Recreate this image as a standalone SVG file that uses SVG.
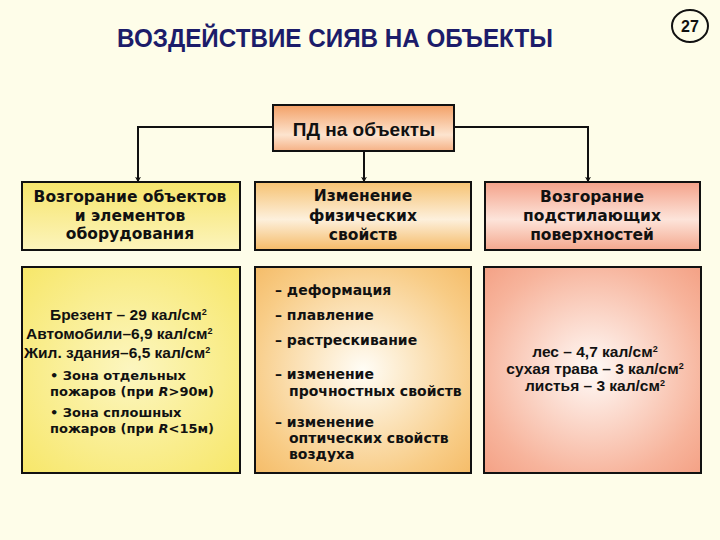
<svg xmlns="http://www.w3.org/2000/svg" width="720" height="540" viewBox="0 0 720 540">
<defs>
<style>
.box{stroke:#111;stroke-width:2}
.conn{fill:none;stroke:#111;stroke-width:2}
.title{font-family:"Liberation Sans",Arial,sans-serif;font-weight:bold;fill:#1c1c6a}
.hd{font-family:"DejaVu Sans",Verdana,sans-serif;font-weight:bold;font-size:15.5px;fill:#111;text-anchor:middle}
.ar{font-family:"Liberation Sans",Arial,sans-serif;font-weight:bold;font-size:15.5px;fill:#111}
.dv{font-family:"DejaVu Sans",Verdana,sans-serif;font-weight:bold;font-size:13px;fill:#111}
.dm{font-family:"DejaVu Sans",Verdana,sans-serif;font-weight:bold;font-size:14px;fill:#111}
.sup{font-size:9px}
</style>
<marker id="arr" viewBox="0 0 10 10" refX="9" refY="5" markerWidth="6" markerHeight="6" orient="auto" markerUnits="userSpaceOnUse">
<path d="M0,0 L10,5 L0,10 L3,5 Z" fill="#111"/>
</marker>
<linearGradient id="gPD" x1="0" y1="0" x2="0" y2="1">
<stop offset="0" stop-color="#f3a066"/><stop offset="0.65" stop-color="#fde4cf"/><stop offset="1" stop-color="#f5b185"/>
</linearGradient>
<linearGradient id="gY" x1="0" y1="0" x2="0" y2="1">
<stop offset="0" stop-color="#f6e56c"/><stop offset="1" stop-color="#fcf4bc"/>
</linearGradient>
<linearGradient id="gO" x1="0" y1="0" x2="0" y2="1">
<stop offset="0" stop-color="#f6c272"/><stop offset="0.55" stop-color="#fdf0dc"/><stop offset="1" stop-color="#f5bb68"/>
</linearGradient>
<linearGradient id="gS" x1="0" y1="0" x2="0" y2="1">
<stop offset="0" stop-color="#f4a28a"/><stop offset="0.55" stop-color="#fde4da"/><stop offset="1" stop-color="#f4a88e"/>
</linearGradient>
<radialGradient id="rY" cx="0.5" cy="0.5" r="0.7">
<stop offset="0" stop-color="#fcf6c0"/><stop offset="1" stop-color="#f7e76a"/>
</radialGradient>
<radialGradient id="rO" cx="0.5" cy="0.5" r="0.7">
<stop offset="0" stop-color="#fffdf6"/><stop offset="0.75" stop-color="#f8cc86"/><stop offset="1" stop-color="#f5bd6a"/>
</radialGradient>
<radialGradient id="rS" cx="0.5" cy="0.5" r="0.7">
<stop offset="0" stop-color="#fffaf7"/><stop offset="0.75" stop-color="#f7b49c"/><stop offset="1" stop-color="#f4a286"/>
</radialGradient>
</defs>
<rect x="0" y="0" width="720" height="540" fill="#fefde9"/>

<g id="title">
<text class="title" x="117" y="47" font-size="25" textLength="436" lengthAdjust="spacingAndGlyphs">ВОЗДЕЙСТВИЕ СИЯВ НА ОБЪЕКТЫ</text>
</g>
<g id="pagenum">
<ellipse cx="690" cy="26" rx="18" ry="16" fill="none" stroke="#111" stroke-width="2"/>
<text x="690" y="32" font-family="Liberation Sans, Arial, sans-serif" font-weight="bold" font-size="16" text-anchor="middle" fill="#111">27</text>
</g>

<g id="connectors">
<path class="conn" d="M273,127 H138 V182" marker-end="url(#arr)"/>
<path class="conn" d="M364,151 V182" marker-end="url(#arr)"/>
<path class="conn" d="M454,127 H588 V182" marker-end="url(#arr)"/>
</g>

<g id="pd">
<rect class="box" x="273" y="105" width="181" height="46" fill="url(#gPD)"/>
<text x="364" y="136" font-family="Liberation Sans, Arial, sans-serif" font-weight="bold" font-size="19" text-anchor="middle" fill="#111">ПД на объекты</text>
</g>

<g id="h1">
<rect class="box" x="22" y="182" width="218" height="68" fill="url(#gY)"/>
<text class="hd" x="130" y="202">Возгорание объектов</text>
<text class="hd" x="130" y="221">и элементов</text>
<text class="hd" x="130" y="239">оборудования</text>
</g>
<g id="h2">
<rect class="box" x="255" y="182" width="216" height="68" fill="url(#gO)"/>
<text class="hd" x="363" y="201">Изменение</text>
<text class="hd" x="363" y="221">физических</text>
<text class="hd" x="363" y="240">свойств</text>
</g>
<g id="h3">
<rect class="box" x="485" y="182" width="215" height="68" fill="url(#gS)"/>
<text class="hd" x="592" y="202">Возгорание</text>
<text class="hd" x="592" y="221">подстилающих</text>
<text class="hd" x="592" y="240">поверхностей</text>
</g>

<g id="d1">
<rect class="box" x="22" y="267" width="218" height="206" fill="url(#rY)"/>
<text class="ar" x="50" y="320">Брезент – 29 кал/см<tspan class="sup" dy="-5">2</tspan></text>
<text class="ar" x="26" y="339">Автомобили–6,9 кал/см<tspan class="sup" dy="-5">2</tspan></text>
<text class="ar" x="24" y="358">Жил. здания–6,5 кал/см<tspan class="sup" dy="-5">2</tspan></text>
<text class="dv" x="50" y="380">• Зона отдельных</text>
<text class="dv" x="50" y="396">пожаров (при <tspan font-style="italic">R</tspan>&gt;90м)</text>
<text class="dv" x="50" y="417">• Зона сплошных</text>
<text class="dv" x="50" y="433">пожаров (при <tspan font-style="italic">R</tspan>&lt;15м)</text>
</g>

<g id="d2">
<rect class="box" x="255" y="267" width="216" height="206" fill="url(#rO)"/>
<text class="dm" x="275" y="295">– деформация</text>
<text class="dm" x="275" y="320">– плавление</text>
<text class="dm" x="275" y="345">– растрескивание</text>
<text class="dm" x="275" y="379">– изменение</text>
<text class="dm" x="289" y="396">прочностных свойств</text>
<text class="dm" x="275" y="427">– изменение</text>
<text class="dm" x="289" y="443">оптических свойств</text>
<text class="dm" x="289" y="459">воздуха</text>
</g>

<g id="d3">
<rect class="box" x="484" y="267" width="217" height="206" fill="url(#rS)"/>
<text class="ar" x="595" y="357" text-anchor="middle" font-size="15">лес – 4,7 кал/см<tspan class="sup" dy="-5">2</tspan></text>
<text class="ar" x="595" y="374" text-anchor="middle" font-size="15">сухая трава – 3 кал/см<tspan class="sup" dy="-5">2</tspan></text>
<text class="ar" x="595" y="391" text-anchor="middle" font-size="15">листья – 3 кал/см<tspan class="sup" dy="-5">2</tspan></text>
</g>
</svg>
